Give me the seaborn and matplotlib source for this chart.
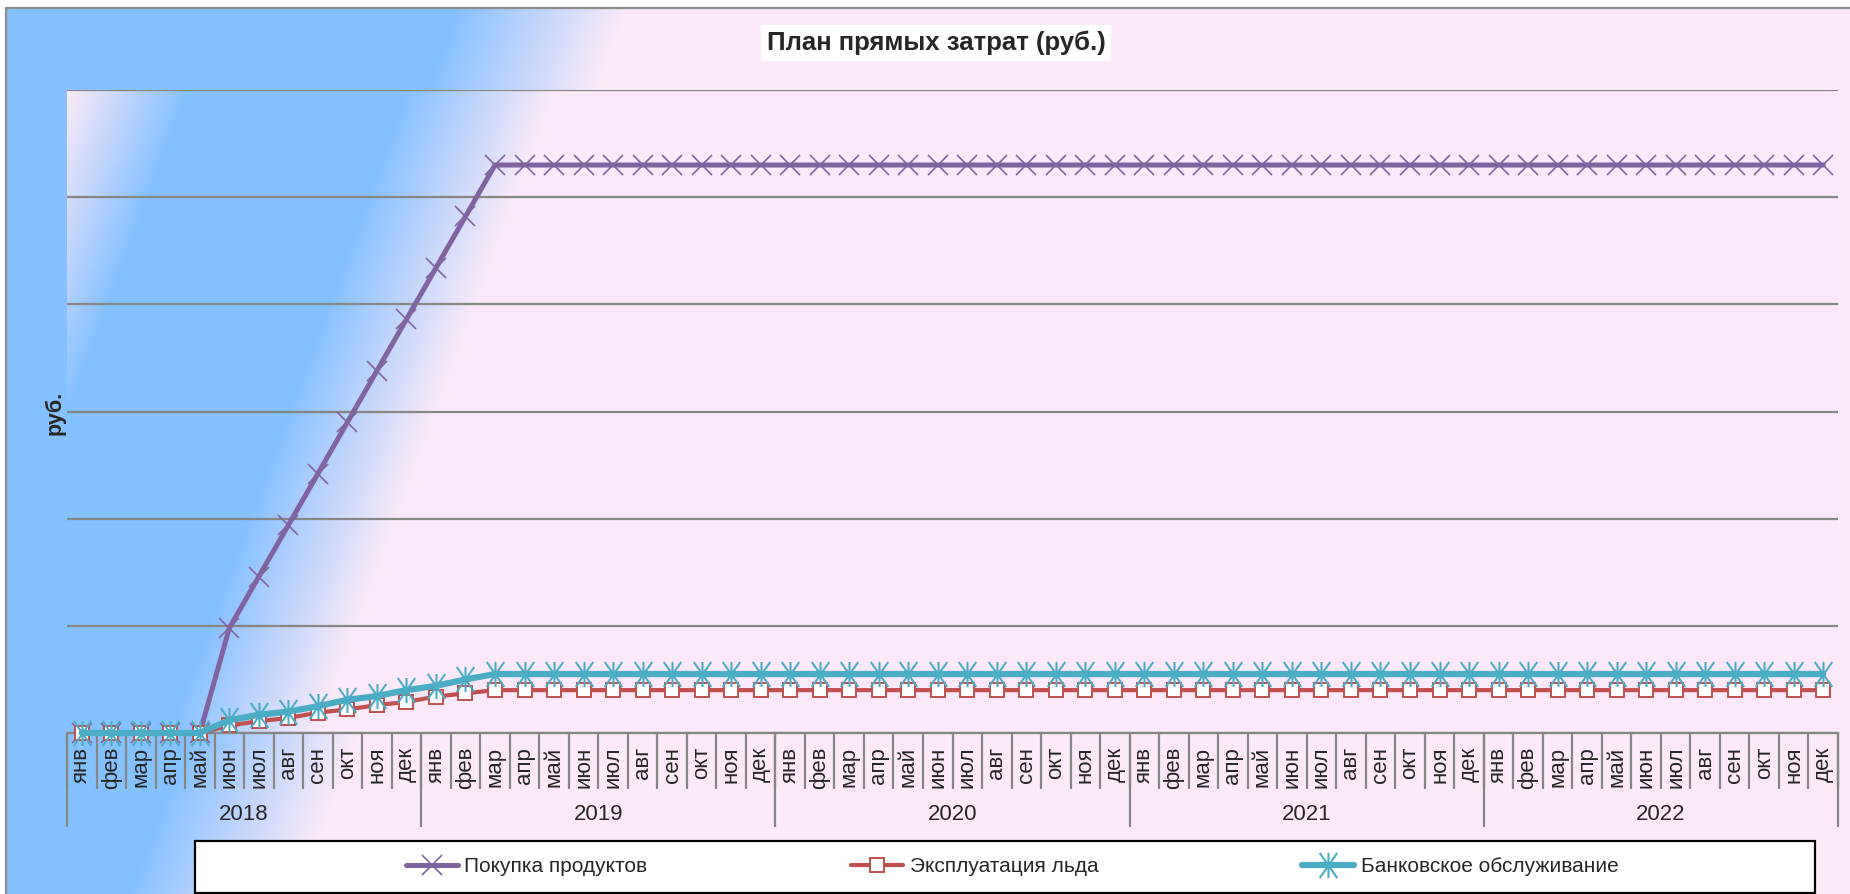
import numpy as np
import matplotlib
matplotlib.use("Agg")
import matplotlib.pyplot as plt
import matplotlib.transforms as mtransforms
from matplotlib.path import Path
from matplotlib.patches import Rectangle
from matplotlib.lines import Line2D
import seaborn as sns

months = ["янв", "фев", "мар", "апр", "май", "июн", "июл", "авг", "сен", "окт", "ноя", "дек"]
years = ["2018", "2019", "2020", "2021", "2022"]

# values (y axis has no labels, one grid step = 1)
pokupka = [0, 0, 0, 0, 0, 0.98, 1.46, 1.94, 2.42, 2.90, 3.38, 3.86,
           4.34, 4.82, 5.30, 5.30, 5.30, 5.30, 5.30, 5.30, 5.30, 5.30, 5.30, 5.30,
           5.30, 5.30, 5.30, 5.30, 5.30, 5.30, 5.30, 5.30, 5.30, 5.30, 5.30, 5.30,
           5.30, 5.30, 5.30, 5.30, 5.30, 5.30, 5.30, 5.30, 5.30, 5.30, 5.30, 5.30,
           5.30, 5.30, 5.30, 5.30, 5.30, 5.30, 5.30, 5.30, 5.30, 5.30, 5.30, 5.30]
led = [0, 0, 0, 0, 0, 0.07, 0.11, 0.14, 0.19, 0.22, 0.26, 0.29,
       0.34, 0.37, 0.40, 0.40, 0.40, 0.40, 0.40, 0.40, 0.40, 0.40, 0.40, 0.40,
       0.40, 0.40, 0.40, 0.40, 0.40, 0.40, 0.40, 0.40, 0.40, 0.40, 0.40, 0.40,
       0.40, 0.40, 0.40, 0.40, 0.40, 0.40, 0.40, 0.40, 0.40, 0.40, 0.40, 0.40,
       0.40, 0.40, 0.40, 0.40, 0.40, 0.40, 0.40, 0.40, 0.40, 0.40, 0.40, 0.40]
bank = [0, 0, 0, 0, 0, 0.12, 0.17, 0.20, 0.25, 0.31, 0.345, 0.40,
        0.44, 0.50, 0.55, 0.55, 0.55, 0.55, 0.55, 0.55, 0.55, 0.55, 0.55, 0.55,
        0.55, 0.55, 0.55, 0.55, 0.55, 0.55, 0.55, 0.55, 0.55, 0.55, 0.55, 0.55,
        0.55, 0.55, 0.55, 0.55, 0.55, 0.55, 0.55, 0.55, 0.55, 0.55, 0.55, 0.55,
        0.55, 0.55, 0.55, 0.55, 0.55, 0.55, 0.55, 0.55, 0.55, 0.55, 0.55, 0.55]
series_names = ["Покупка продуктов", "Эксплуатация льда", "Банковское обслуживание"]

PURPLE = "#8064A2"
RED = "#C0504D"
CYAN = "#4BACC6"
GRAY = "#868686"
BLUE = np.array([134, 193, 255]) / 255
PINK = np.array([252, 234, 249]) / 255

sns.set_style("white")
plt.rcParams["font.family"] = ["Liberation Sans", "DejaVu Sans"]

W, H = 1850, 894
fig = plt.figure(figsize=(W / 100, H / 100), dpi=100)


def ramp(u, stops, cols):
    out = np.zeros(u.shape + (3,))
    for c in range(3):
        out[..., c] = np.interp(u, stops, [col[c] for col in cols])
    return out


# chart area gradient (diagonal blue -> pink)
yy, xx = np.mgrid[0:H, 0:W]
bg = ramp(xx + 0.37 * yy, [460, 630], [BLUE, PINK])
bg[:8, :] = 1
bg[:, :6] = 1
im = fig.figimage(bg, xo=0, yo=0, origin="upper")
im.set_zorder(-5)
fig.add_artist(Line2D([6 / W, 1], [1 - 8 / H, 1 - 8 / H], transform=fig.transFigure, color="#8c8c8c", lw=1.6))
fig.add_artist(Line2D([6 / W, 6 / W], [0, 1 - 8 / H], transform=fig.transFigure, color="#8c8c8c", lw=1.6))

px0, py0, pw, ph = 67, 90, 1771, 643
ax = fig.add_axes([px0 / W, 1 - (py0 + ph) / H, pw / W, ph / H])
ax.set_facecolor("none")

# plot area gradient (pink -> blue -> pink)
py, pxx = np.mgrid[0:ph, 0:pw]
pa = ramp(pxx + 0.37 * py, [0, 120, 340, 490], [PINK, BLUE, BLUE, PINK])
ax.imshow(pa, extent=(-0.5, 59.5, 0, 6), aspect="auto", origin="upper", zorder=0)

idx = np.arange(len(pokupka))
star = Path([(0, -1), (0, 1), (-0.7, -1), (0.7, 1), (-0.7, 1), (0.7, -1)],
            [Path.MOVETO, Path.LINETO] * 3)

sns.lineplot(x=idx, y=pokupka, ax=ax, color=PURPLE, lw=3.6, marker="x", markersize=14,
             markeredgewidth=1.2, markeredgecolor=PURPLE, label=series_names[0],
             clip_on=False, zorder=3)
sns.lineplot(x=idx, y=led, ax=ax, color=RED, lw=3.0, marker="s", markersize=10,
             markerfacecolor="white", markeredgecolor=RED, markeredgewidth=1.4,
             label=series_names[1], clip_on=False, zorder=4)
sns.lineplot(x=idx, y=bank, ax=ax, color=CYAN, lw=4.5, marker=star, markersize=18,
             markerfacecolor="none", markeredgecolor=CYAN, markeredgewidth=1.5,
             label=series_names[2], clip_on=False, zorder=5)

ax.set_xlim(-0.5, 59.5)
ax.set_ylim(0, 6)
ax.set_yticks(range(7))
ax.set_yticklabels([])
ax.set_ylabel("")
ax.grid(axis="y", color=GRAY, lw=1.6)
ax.grid(axis="x", visible=False)
ax.set_axisbelow(True)
for s in ["top", "left", "right"]:
    ax.spines[s].set_visible(False)
ax.spines["bottom"].set_color(GRAY)
ax.spines["bottom"].set_linewidth(1.6)

labels = [m for y in years for m in months]
ax.set_xticks(idx)
ax.set_xticklabels(labels, rotation=90, fontsize=16)
ax.tick_params(axis="both", length=0)
ax.tick_params(axis="x", pad=10)

trans = mtransforms.blended_transform_factory(ax.transData, ax.transAxes)
ax.vlines(np.arange(-0.5, 60, 1), -56 / ph, 0, transform=trans, clip_on=False, color=GRAY, lw=1.6)
ax.vlines(np.arange(-0.5, 61, 12), -94 / ph, 0, transform=trans, clip_on=False, color=GRAY, lw=1.6)
for k, yr in enumerate(years):
    ax.text(5.5 + 12 * k, -81 / ph, yr, transform=trans, ha="center", va="center", fontsize=16)

fig.text(936 / W, 1 - 43 / H, "План прямых затрат (руб.)", ha="center", va="center",
         fontsize=18.5, weight="bold", bbox=dict(facecolor="white", edgecolor="none", pad=4))
fig.text(55 / W, 1 - 413 / H, "руб.", rotation=90, ha="center", va="center",
         fontsize=15.5, weight="bold")

handles, labs = ax.get_legend_handles_labels()
ax.get_legend().remove()
fig.add_artist(Rectangle((195 / W, 1 - 893 / H), 1620 / W, 52 / H, transform=fig.transFigure,
                         facecolor="white", edgecolor="black", lw=1.6, zorder=1))
leg = fig.legend(handles, labs, loc="center", bbox_to_anchor=(1012 / W, 1 - 867 / H), ncol=3,
                 frameon=False, fontsize=15, handlelength=2.5, handletextpad=0.3,
                 columnspacing=9.8)
leg.set_zorder(2)

fig.savefig("out.png", dpi=100)
